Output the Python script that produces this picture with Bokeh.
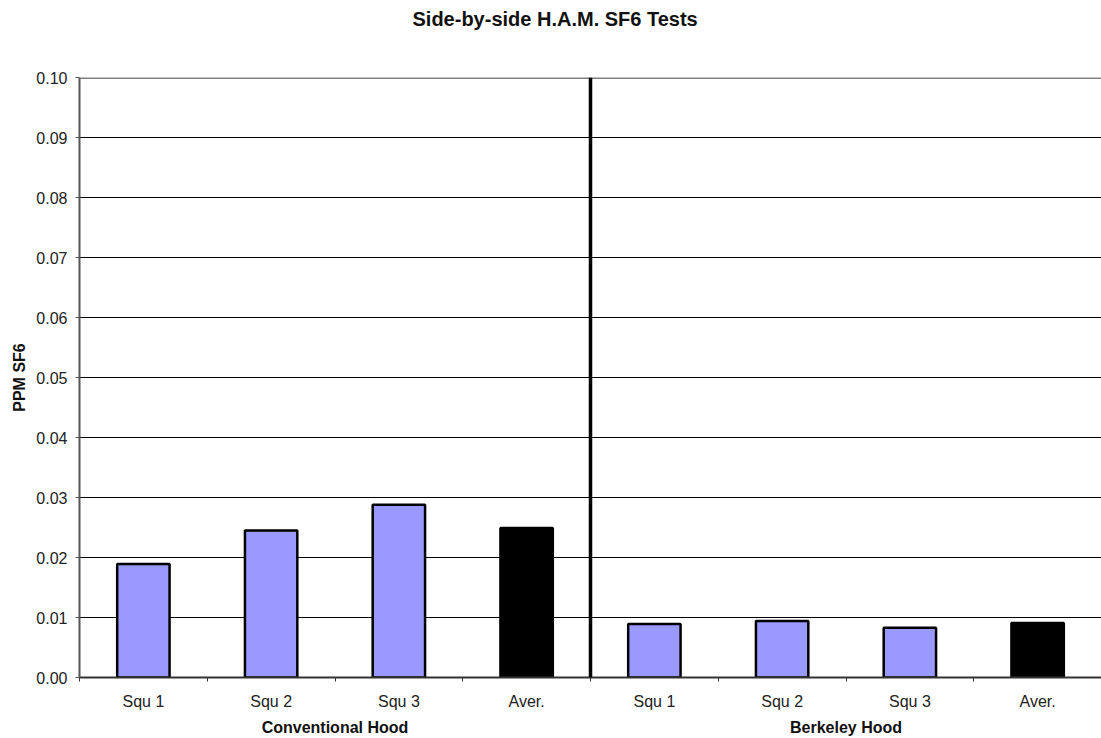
from bokeh.plotting import figure
from bokeh.models import (ColumnDataSource, FixedTicker, LinearAxis, Span, Range1d,
                          NumeralTickFormatter)
from bokeh.embed import file_html
from bokeh.resources import INLINE

# ---- data ----
title_text = "Side-by-side H.A.M. SF6 Tests"
groups = ["Conventional Hood", "Berkeley Hood"]
tests = ["Squ 1", "Squ 2", "Squ 3", "Aver."]
conventional = [0.0189, 0.0245, 0.0288, 0.0249]
berkeley = [0.0089, 0.0094, 0.0083, 0.0091]
y_ticks = [0.00, 0.01, 0.02, 0.03, 0.04, 0.05, 0.06, 0.07, 0.08, 0.09, 0.10]

labels = tests + tests
values = conventional + berkeley
n = len(values)
xs = [i + 0.5 for i in range(n)]
colors = ["#9999FF" if lab != "Aver." else "#000000" for lab in labels]

src = ColumnDataSource(dict(x=xs, top=values, color=colors))

FONT = "Liberation Sans"

p = figure(width=1101, height=738, output_backend="svg", toolbar_location=None,
           x_range=Range1d(0, n), y_range=Range1d(0, 0.10),
           min_border_left=79, min_border_right=0, min_border_top=77,
           min_border_bottom=10, x_axis_location=None)

p.title.text = title_text
p.title.text_font = FONT
p.title.text_font_size = "20px"
p.title.text_font_style = "bold"
p.title.text_color = "#111111"
p.title.align = "left"
p.title.offset = 333
p.title.standoff = 4

# invisible spacer between title and frame
spacer = LinearAxis(ticker=FixedTicker(ticks=[]), axis_label=" ",
                    axis_label_text_font_size="30px", axis_label_standoff=10)
spacer.axis_line_color = None
spacer.major_tick_line_color = None
spacer.minor_tick_line_color = None
spacer.major_label_text_color = None
p.add_layout(spacer, "above")

p.outline_line_color = None
p.xgrid.visible = False
p.ygrid.grid_line_color = "black"
p.ygrid.grid_line_width = 1
p.ygrid.ticker = FixedTicker(ticks=y_ticks)

# y axis
yax = p.yaxis[0]
yax.ticker = FixedTicker(ticks=y_ticks)
yax.formatter = NumeralTickFormatter(format="0.00")
yax.axis_label = "PPM SF6"
yax.axis_label_text_font = FONT
yax.axis_label_text_font_style = "bold"
yax.axis_label_text_font_size = "16px"
yax.axis_label_text_color = "#111111"
yax.major_label_text_font = FONT
yax.major_label_text_font_size = "16px"
yax.major_label_text_color = "#222222"
yax.axis_line_color = "#555555"
yax.axis_line_width = 2
yax.major_tick_line_color = "#555555"
yax.major_tick_in = 0
yax.major_tick_out = 4
yax.minor_tick_line_color = None
yax.major_label_standoff = 8

# x axis with category labels
xax = LinearAxis(ticker=FixedTicker(ticks=xs, minor_ticks=list(range(n + 1))),
                 major_label_overrides={x: lab for x, lab in zip(xs, labels)})
xax.major_tick_line_color = None
xax.minor_tick_in = 0
xax.minor_tick_out = 4
xax.minor_tick_line_color = "#333333"
xax.axis_line_color = "#333333"
xax.axis_line_width = 2
xax.major_label_text_font = FONT
xax.major_label_text_font_size = "16px"
xax.major_label_text_color = "#222222"
xax.major_label_standoff = 9
p.add_layout(xax, "below")

# group labels axis
gax = LinearAxis(ticker=FixedTicker(ticks=[2, 6]),
                 major_label_overrides={2: groups[0], 6: groups[1]})
gax.axis_line_color = None
gax.major_tick_line_color = None
gax.minor_tick_line_color = None
gax.major_label_text_font = FONT
gax.major_label_text_font_style = "bold"
gax.major_label_text_font_size = "16px"
gax.major_label_text_color = "#111111"
gax.major_label_standoff = 0
p.add_layout(gax, "below")

p.vbar(x="x", top="top", width=0.41, bottom=0, source=src,
       fill_color="color", line_color="black", line_width=2.5)

p.add_layout(Span(location=0.10, dimension="width", line_color="#808080", line_width=3))
p.add_layout(Span(location=n / 2, dimension="height", line_color="black", line_width=3.5))

open("out.html", "w").write(file_html(p, INLINE))
